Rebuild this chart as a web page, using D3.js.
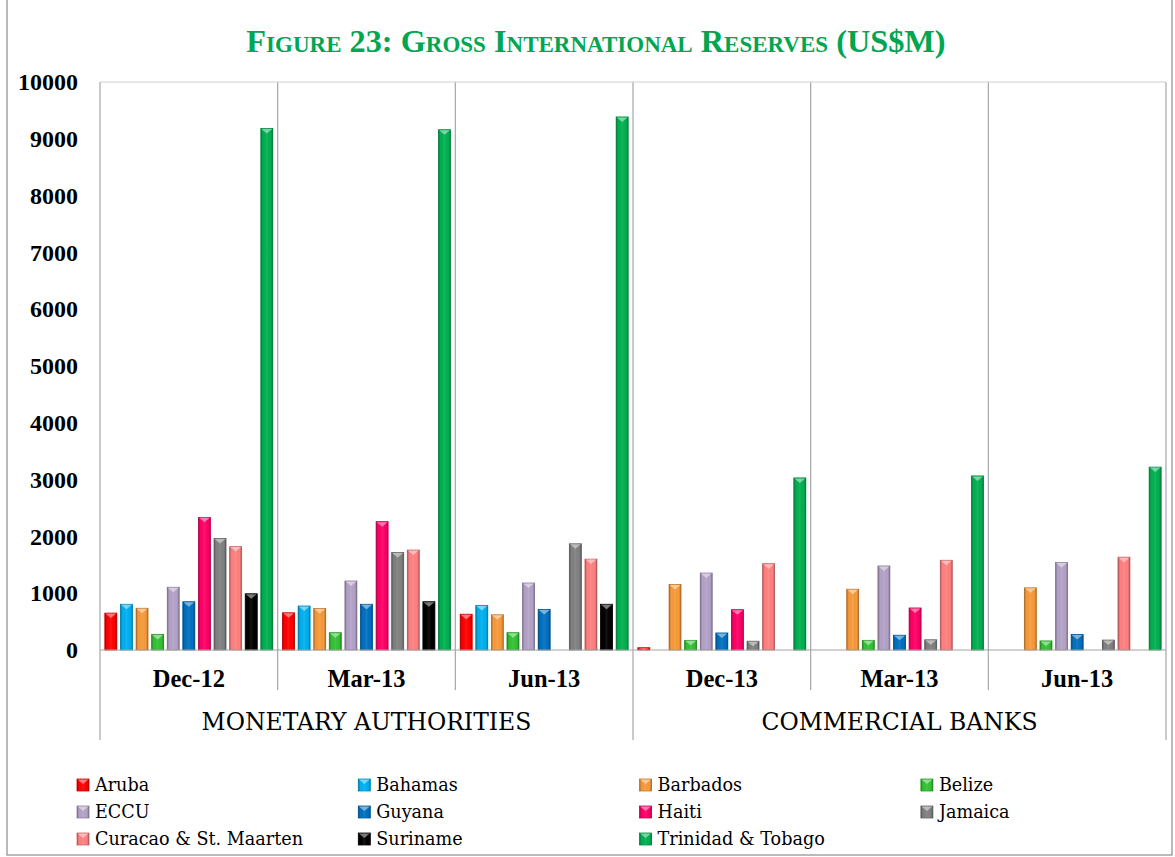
<!DOCTYPE html>
<html>
<head>
<meta charset="utf-8">
<script src="https://cdn.jsdelivr.net/npm/d3@7"></script>
<style>
  body { margin: 0; background: #fff; }
</style>
</head>
<body>
<div class="chart"></div>
<script>
var w = 1175;
var h = 857;
var plotLeft = 100;
var plotRight = 1166;
var plotTop = 82;
var plotBottom = 650;
var serif = "'Liberation Serif', 'Times New Roman', serif";
var serifPlain = "'DejaVu Serif', serif";

var categories = ["Dec-12", "Mar-13", "Jun-13", "Dec-13", "Mar-13", "Jun-13"];
var groupNames = ["MONETARY AUTHORITIES", "COMMERCIAL BANKS"];
var yTicks = [0, 1000, 2000, 3000, 4000, 5000, 6000, 7000, 8000, 9000, 10000];

var seriesNames = ["Aruba", "Bahamas", "Barbados", "Belize", "ECCU", "Guyana",
                   "Haiti", "Jamaica", "Curacao & St. Maarten", "Suriname", "Trinidad & Tobago"];
var seriesColors = ["#ff0000", "#00b0f0", "#f79a3a", "#33c233", "#b3a2c7", "#0070c0",
                    "#ff0066", "#808080", "#ff8080", "#000000", "#00b050"];

// values in US$M, null = no bar
var aruba    = [650, 655, 630, 40, null, null];
var bahamas  = [805, 775, 785, null, null, null];
var barbados = [735, 730, 620, 1155, 1070, 1095];
var belize   = [275, 305, 305, 170, 170, 160];
var eccu     = [1105, 1215, 1180, 1355, 1480, 1540];
var guyana   = [850, 805, 715, 300, 260, 275];
var haiti    = [2335, 2260, null, 710, 740, null];
var jamaica  = [1965, 1715, 1870, 155, 180, 175];
var curacao  = [1820, 1760, 1600, 1520, 1580, 1635];
var suriname = [990, 850, 805, null, null, null];
var trinidad = [9180, 9160, 9385, 3030, 3065, 3220];

var allSeries = [aruba, bahamas, barbados, belize, eccu, guyana,
                 haiti, jamaica, curacao, suriname, trinidad];

var catIdx = d3.range(categories.length);

var x0 = d3.scaleBand()
           .domain(catIdx)
           .range([plotLeft, plotRight]);

var x1 = d3.scaleBand()
           .domain(d3.range(seriesNames.length))
           .range([0, x0.bandwidth()])
           .paddingInner(0.23)
           .paddingOuter(0.31);

var yScale = d3.scaleLinear()
               .domain([0, 10000])
               .range([plotBottom, plotTop]);

var svg = d3.select(".chart").append("svg")
            .attr("width", w)
            .attr("height", h)
            .style("font-family", serif);

// gradients for the bevelled bars
var defs = svg.append("defs");
var sideShade = defs.append("linearGradient")
                    .attr("id", "sideShade")
                    .attr("x1", "0").attr("x2", "1").attr("y1", "0").attr("y2", "0");
sideShade.append("stop").attr("offset", "0").attr("stop-color", "#000").attr("stop-opacity", 0.28);
sideShade.append("stop").attr("offset", "0.18").attr("stop-color", "#000").attr("stop-opacity", 0);
sideShade.append("stop").attr("offset", "0.5").attr("stop-color", "#fff").attr("stop-opacity", 0.08);
sideShade.append("stop").attr("offset", "0.82").attr("stop-color", "#000").attr("stop-opacity", 0);
sideShade.append("stop").attr("offset", "1").attr("stop-color", "#000").attr("stop-opacity", 0.28);

// chart frame
svg.append("rect")
   .attr("x", 7).attr("y", -2)
   .attr("width", 1165).attr("height", 857)
   .attr("fill", "none")
   .attr("stroke", "#8c8c8c")
   .attr("stroke-width", 1.2);

// title
svg.append("text")
   .attr("x", 596)
   .attr("y", 52)
   .attr("text-anchor", "middle")
   .style("font-family", serif)
   .style("font-size", "32.3px")
   .style("font-weight", "bold")
   .style("font-variant", "small-caps")
   .style("fill", "#00a651")
   .text("Figure 23: Gross International Reserves (US$M)");

// vertical gridlines between categories
svg.selectAll("xGridlines")
   .data(d3.range(1, categories.length))
   .enter()
   .append("line")
   .attr("x1", function(d) { return x0(d); })
   .attr("x2", function(d) { return x0(d); })
   .attr("y1", plotTop)
   .attr("y2", function(d) { return d == 3 ? 740 : 690; })
   .attr("stroke", "#a6a6a6")
   .attr("stroke-width", 1.2);

// plot frame: left axis, right edge, top
svg.append("line")
   .attr("x1", plotLeft).attr("x2", plotLeft)
   .attr("y1", plotTop).attr("y2", 740)
   .attr("stroke", "#a6a6a6").attr("stroke-width", 1.2);
svg.append("line")
   .attr("x1", plotRight).attr("x2", plotRight)
   .attr("y1", plotTop).attr("y2", 740)
   .attr("stroke", "#a6a6a6").attr("stroke-width", 1.2);
svg.append("line")
   .attr("x1", plotLeft).attr("x2", plotRight)
   .attr("y1", plotTop).attr("y2", plotTop)
   .attr("stroke", "#d0d0d0").attr("stroke-width", 1);

// y axis labels
var yAxis = d3.axisLeft()
              .scale(yScale)
              .tickValues(yTicks)
              .tickSize(0)
              .tickPadding(22)
              .tickFormat(function(d) { return d; });

svg.append("g")
   .attr("class", "yAxis")
   .attr("transform", "translate(" + plotLeft + ",0)")
   .call(yAxis)
   .call(function(g) { g.select(".domain").remove(); })
   .call(function(g) {
     g.selectAll("text")
      .style("font-family", serif)
      .style("font-size", "24px")
      .style("font-weight", "bold")
      .style("fill", "#000");
   });

// category labels
var xAxis = d3.axisBottom()
              .scale(x0)
              .tickSize(0)
              .tickPadding(20)
              .tickFormat(function(d) { return categories[d]; });

svg.append("g")
   .attr("class", "xAxis")
   .attr("transform", "translate(0," + plotBottom + ")")
   .call(xAxis)
   .call(function(g) { g.select(".domain").remove(); })
   .call(function(g) {
     g.selectAll("text")
      .style("font-family", serif)
      .style("font-size", "24.5px")
      .style("font-weight", "bold")
      .style("fill", "#000");
   });

// group labels
svg.selectAll("groupLabels")
   .data(groupNames)
   .enter()
   .append("text")
   .attr("text-anchor", "middle")
   .attr("x", function(d, i) { return (x0(i * 3) + x0(i * 3 + 2) + x0.bandwidth()) / 2; })
   .attr("y", 730)
   .style("font-family", serifPlain)
   .style("font-size", "23.5px")
   .style("fill", "#000")
   .text(function(d) { return d; });

// bars
var barData = [];
allSeries.forEach(function(vals, s) {
  vals.forEach(function(v, c) {
    if (v !== null) {
      barData.push({series: s, cat: c, value: v});
    }
  });
});

var bars = svg.selectAll("g.bar")
              .data(barData)
              .enter()
              .append("g")
              .attr("class", "bar")
              .attr("transform", function(d) {
                return "translate(" + (x0(d.cat) + x1(d.series)) + "," + yScale(d.value) + ")";
              });

var bw = x1.bandwidth();

bars.append("rect")
    .attr("width", bw)
    .attr("height", function(d) { return yScale(0) - yScale(d.value); })
    .attr("fill", function(d) { return seriesColors[d.series]; })
    .attr("stroke", function(d) { return d3.color(seriesColors[d.series]).darker(0.6); })
    .attr("stroke-width", 0.8);

bars.append("rect")
    .attr("width", bw)
    .attr("height", function(d) { return yScale(0) - yScale(d.value); })
    .attr("fill", "url(#sideShade)");

bars.append("path")
    .attr("d", function(d) {
      var hh = Math.min(5, yScale(0) - yScale(d.value));
      return "M0.5,0.5 L" + (bw - 0.5) + ",0.5 L" + (bw / 2) + "," + hh + "Z";
    })
    .attr("fill", "#fff")
    .attr("fill-opacity", 0.45);

// x axis line
svg.append("line")
   .attr("x1", plotLeft).attr("x2", plotRight)
   .attr("y1", plotBottom).attr("y2", plotBottom)
   .attr("stroke", "#a6a6a6").attr("stroke-width", 1.2);

// legend
var legendCols = 4;
var legend = svg.append("g").attr("class", "legend");
var items = legend.selectAll("g.item")
                  .data(seriesNames)
                  .enter()
                  .append("g")
                  .attr("class", "item")
                  .attr("transform", function(d, i) {
                    var col = i % legendCols;
                    var row = Math.floor(i / legendCols);
                    return "translate(" + (77 + col * 281.3) + "," + (785 + row * 27) + ")";
                  });

items.append("rect")
     .attr("x", 0).attr("y", -6)
     .attr("width", 12).attr("height", 12)
     .attr("fill", function(d, i) { return seriesColors[i]; })
     .attr("stroke", function(d, i) { return d3.color(seriesColors[i]).darker(0.6); })
     .attr("stroke-width", 0.8);
items.append("rect")
     .attr("x", 0).attr("y", -6)
     .attr("width", 12).attr("height", 12)
     .attr("fill", "url(#sideShade)");
items.append("path")
     .attr("d", "M0.5,-5.5 L11.5,-5.5 L6,-1Z")
     .attr("fill", "#fff")
     .attr("fill-opacity", 0.45);

items.append("text")
     .attr("x", 18)
     .attr("y", 0)
     .attr("dy", "0.35em")
     .style("font-family", serifPlain)
     .style("font-size", "17.6px")
     .style("fill", "#000")
     .text(function(d) { return d; });
</script>
</body>
</html>
